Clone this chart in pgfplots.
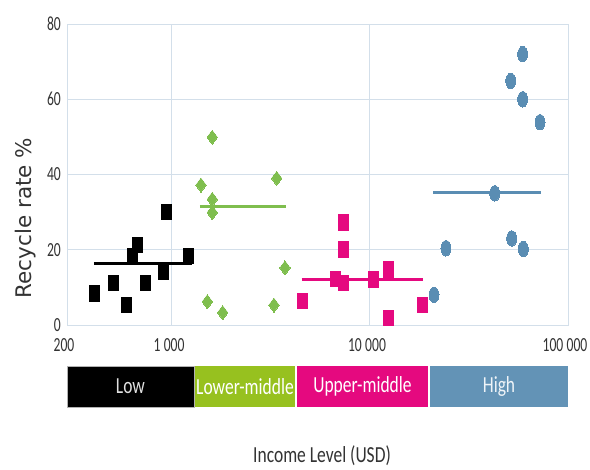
\documentclass[border=0pt]{standalone}
\usepackage{pgfplots}
\pgfplotsset{compat=1.18}
\usepackage{fontspec}
\setmainfont{Carlito}
\newfontfamily\tickfont[FakeStretch=0.68]{Carlito}
\newfontfamily\labfont[FakeStretch=0.76]{Carlito}
\newfontfamily\yfont{DejaVu Sans}
\definecolor{gridc}{HTML}{D3DFEA}
\definecolor{tickc}{HTML}{333333}
\definecolor{mgreen}{HTML}{7FBE4E}
\definecolor{mpink}{HTML}{E5097F}
\definecolor{mblue}{HTML}{5A8DB3}
\definecolor{bgreen}{HTML}{97C11F}
\definecolor{bpink}{HTML}{E5097F}
\definecolor{bblue}{HTML}{6393B6}
\begin{document}
\begin{tikzpicture}
\path (-67pt,-143pt) rectangle (523pt,325pt);
\begin{axis}[at={(0,0)}, anchor=south west, scale only axis,
  width=501pt, height=301pt,
  xmode=log, xmin=295, xmax=100000, ymin=0, ymax=80,
  xtick={295,1000,10000,100000}, xticklabels={200,1\,000,10\,000,100\,000},
  minor xtick={},
  ytick={0,20,40,60,80}, yticklabels={0,20,40,60,80},
  xmajorgrids, ymajorgrids,
  grid style={gridc, line width=1pt},
  axis line style={gridc, line width=1pt},
  major tick length=0pt,
  tick label style={font=\fontsize{20}{20}\selectfont\tickfont, text=tickc, inner sep=0pt},
  xticklabel style={anchor=north, yshift=-13pt, xshift=-3pt},
  yticklabel style={anchor=east, xshift=-6pt},
  xlabel={Income Level (USD)}, ylabel={Recycle rate \%},
  every axis x label/.style={at={(axis description cs:0.509,0)}, anchor=center, yshift=-131pt, font=\fontsize{23}{23}\selectfont\labfont, text=tickc},
  every axis y label/.style={at={(axis description cs:-0.0818,0.355)}, rotate=90, anchor=center, font=\fontsize{21.5}{21.5}\selectfont\yfont, text=tickc},
]
% Low income
\addplot[black, line width=2.8pt, no marks] coordinates {(403,16.4) (1257,16.4)};
\addplot[black, only marks, mark=square*, mark size=5pt, mark options={yscale=1.55, fill=black, draw=black, line width=0pt}] coordinates {
(405,8.4) (505,11.2) (586,5.3) (630,18.3) (668,21.3) (731,11.2) (904,14.2) (933,30.0) (1209,18.3)};
% Lower-middle
\addplot[mgreen, line width=2.8pt, no marks] coordinates {(1385,31.6) (3752,31.6)};
\addplot[mgreen, only marks, mark=diamond*, mark size=7pt, mark options={fill=mgreen, draw=mgreen, line width=0pt}] coordinates {
(1598,49.9) (1401,37.2) (3379,39.0) (1598,33.4) (1598,29.9) (3722,15.2) (1508,6.2) (1803,3.3) (3274,5.3)};
% Upper-middle
\addplot[mpink, line width=2.8pt, no marks] coordinates {(4519,12.2) (18570,12.2)};
\addplot[mpink, only marks, mark=square*, mark size=5pt, mark options={yscale=1.55, fill=mpink, draw=mpink, line width=0pt, rounded corners=1.5pt}] coordinates {
(7390,27.2) (7390,20.1) (6710,12.2) (7390,11.2) (10475,12.1) (12370,14.8) (12370,1.8) (4536,6.4) (18460,5.3)};
% High
\addplot[mblue, line width=2.8pt, no marks] coordinates {(20880,35.2) (72800,35.2)};
\addplot[mblue, only marks, mark=*, mark size=5pt, mark options={yscale=1.55, fill=mblue, draw=mblue, line width=0pt}] coordinates {
(59050,72.0) (51380,64.9) (59050,60.0) (72210,53.9) (42630,35.0) (51960,23.0) (59450,20.2) (24190,20.4) (21050,8.0)};
\end{axis}
\begin{axis}[at={(0,-82pt)}, anchor=south west, scale only axis,
  width=501pt, height=41pt,
  xmode=log, xmin=295, xmax=100000, ymin=0, ymax=1, hide axis, clip=false]
\addplot[fill=black, draw=gray!60, line width=0.6pt] coordinates {(295,1) (1291,1)} \closedcycle;
\addplot[fill=bgreen, draw=none] coordinates {(1307,1) (4180,1)} \closedcycle;
\addplot[fill=bpink, draw=none] coordinates {(4277,1) (19630,1)} \closedcycle;
\addplot[fill=bblue, draw=none] coordinates {(20100,1) (100000,1)} \closedcycle;
\node[font=\fontsize{23}{23}\selectfont\labfont, text=white!88!black] at (axis cs:617,0.5) {Low};
\node[font=\fontsize{23}{23}\selectfont\labfont, text=white] at (axis cs:2337,0.5) {Lower-middle};
\node[font=\fontsize{23}{23}\selectfont\labfont, text=white] at (axis cs:9163,0.5) {Upper-middle};
\node[font=\fontsize{23}{23}\selectfont\labfont, text=white!90!bblue] at (axis cs:44833,0.5) {High};
\end{axis}
\end{tikzpicture}
\end{document}
